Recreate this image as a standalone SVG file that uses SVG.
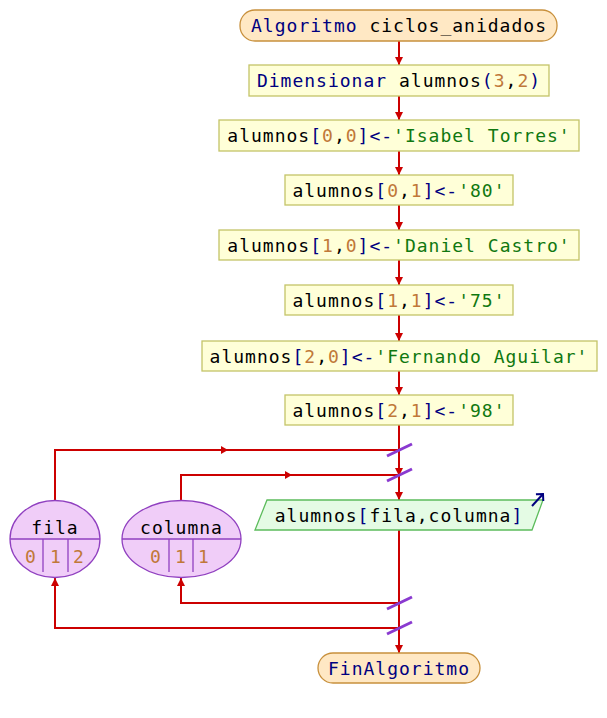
<svg xmlns="http://www.w3.org/2000/svg" width="607" height="718" viewBox="0 0 607 718">
<defs>
<marker id="ah" markerUnits="userSpaceOnUse" markerWidth="10" markerHeight="8" refX="8" refY="4" orient="auto">
<path d="M0,0 L8,4 L0,8 Z" fill="#cc0000"/>
</marker>
<marker id="ob" markerUnits="userSpaceOnUse" markerWidth="12" markerHeight="12" refX="6" refY="6" orient="auto">
<path d="M1,1 L6,6 L1,11" fill="none" stroke="#000080" stroke-width="2"/>
</marker>
<style>
text{font-family:"DejaVu Sans Mono","Liberation Mono",monospace;font-size:18px;letter-spacing:1px;fill:#000;text-anchor:middle}
.term{fill:#ffe8c4;stroke:#c8903c;stroke-width:1.3}
.proc{fill:#ffffd8;stroke:#c4c468;stroke-width:1.3}
.io{fill:#e4fbe4;stroke:#5cbc5c;stroke-width:1.3}
.var{fill:#f0cdf8;stroke:#9040c0;stroke-width:1.3}
.k{fill:#000080}
.n{fill:#c07838}
.s{fill:#107810}
.c{fill:none;stroke:#cc0000;stroke-width:2}
.sl{stroke:#8a3ad0;stroke-width:3}
.tri{fill:#cc0000}
</style>
</defs>
<g id="connectors">
<line class="c" x1="399" y1="41" x2="399" y2="65" marker-end="url(#ah)"/>
<line class="c" x1="399" y1="96" x2="399" y2="120" marker-end="url(#ah)"/>
<line class="c" x1="399" y1="151" x2="399" y2="175" marker-end="url(#ah)"/>
<line class="c" x1="399" y1="205" x2="399" y2="230" marker-end="url(#ah)"/>
<line class="c" x1="399" y1="260" x2="399" y2="285" marker-end="url(#ah)"/>
<line class="c" x1="399" y1="315" x2="399" y2="341" marker-end="url(#ah)"/>
<line class="c" x1="399" y1="371" x2="399" y2="395" marker-end="url(#ah)"/>
<line class="c" x1="399" y1="425" x2="399" y2="476" marker-end="url(#ah)"/>
<line class="c" x1="399" y1="476" x2="399" y2="500" marker-end="url(#ah)"/>
<line class="c" x1="399" y1="530" x2="399" y2="653" marker-end="url(#ah)"/>
<polyline class="c" points="55,500 55,450 399,450"/>
<path class="tri" d="M221,446 L228,450 L221,454 Z"/>
<polyline class="c" points="181,500 181,475 399,475"/>
<path class="tri" d="M285,471 L292,475 L285,479 Z"/>
<polyline class="c" points="399,603 181,603 181,578" marker-end="url(#ah)"/>
<polyline class="c" points="399,628 55,628 55,578" marker-end="url(#ah)"/>
<line class="sl" x1="387" y1="456" x2="412" y2="444"/>
<line class="sl" x1="387" y1="481" x2="412" y2="469"/>
<line class="sl" x1="387" y1="609" x2="412" y2="597"/>
<line class="sl" x1="387" y1="634" x2="412" y2="622"/>
</g>
<g id="start">
<rect class="term" x="240" y="10" width="317" height="31" rx="15"/>
<text x="399" y="32"><tspan class="k">Algoritmo</tspan> ciclos_anidados</text>
</g>
<g id="dim">
<rect class="proc" x="249" y="65" width="300" height="31"/>
<text x="399" y="87"><tspan class="k">Dimensionar</tspan> alumnos<tspan class="k">(</tspan><tspan class="n">3</tspan>,<tspan class="n">2</tspan><tspan class="k">)</tspan></text>
</g>
<g id="a00">
<rect class="proc" x="219" y="120" width="360" height="31"/>
<text x="399" y="142">alumnos<tspan class="k">[</tspan><tspan class="n">0</tspan>,<tspan class="n">0</tspan><tspan class="k">]&lt;-</tspan><tspan class="s">'Isabel Torres'</tspan></text>
</g>
<g id="a01">
<rect class="proc" x="285" y="175" width="228" height="30"/>
<text x="399" y="197">alumnos<tspan class="k">[</tspan><tspan class="n">0</tspan>,<tspan class="n">1</tspan><tspan class="k">]&lt;-</tspan><tspan class="s">'80'</tspan></text>
</g>
<g id="a10">
<rect class="proc" x="219" y="230" width="360" height="30"/>
<text x="399" y="252">alumnos<tspan class="k">[</tspan><tspan class="n">1</tspan>,<tspan class="n">0</tspan><tspan class="k">]&lt;-</tspan><tspan class="s">'Daniel Castro'</tspan></text>
</g>
<g id="a11">
<rect class="proc" x="285" y="285" width="228" height="30"/>
<text x="399" y="307">alumnos<tspan class="k">[</tspan><tspan class="n">1</tspan>,<tspan class="n">1</tspan><tspan class="k">]&lt;-</tspan><tspan class="s">'75'</tspan></text>
</g>
<g id="a20">
<rect class="proc" x="202" y="341" width="395" height="30"/>
<text x="399" y="363">alumnos<tspan class="k">[</tspan><tspan class="n">2</tspan>,<tspan class="n">0</tspan><tspan class="k">]&lt;-</tspan><tspan class="s">'Fernando Aguilar'</tspan></text>
</g>
<g id="a21">
<rect class="proc" x="285" y="395" width="228" height="30"/>
<text x="399" y="417">alumnos<tspan class="k">[</tspan><tspan class="n">2</tspan>,<tspan class="n">1</tspan><tspan class="k">]&lt;-</tspan><tspan class="s">'98'</tspan></text>
</g>
<g id="loopFila">
<ellipse class="var" cx="55" cy="539" rx="45" ry="38.5"/>
<line x1="10" y1="539" x2="100" y2="539" stroke="#9040c0" stroke-width="1.3"/>
<line x1="43" y1="539" x2="43" y2="572" stroke="#9040c0" stroke-width="1.3"/>
<line x1="68" y1="539" x2="68" y2="572" stroke="#9040c0" stroke-width="1.3"/>
<text x="55" y="534">fila</text>
<text class="n" x="31" y="563">0</text>
<text class="n" x="56" y="563">1</text>
<text class="n" x="79" y="563">2</text>
</g>
<g id="loopColumna">
<ellipse class="var" cx="181.5" cy="539" rx="59.5" ry="38.5"/>
<line x1="122" y1="539" x2="241" y2="539" stroke="#9040c0" stroke-width="1.3"/>
<line x1="169" y1="539" x2="169" y2="572" stroke="#9040c0" stroke-width="1.3"/>
<line x1="193" y1="539" x2="193" y2="572" stroke="#9040c0" stroke-width="1.3"/>
<text x="181.5" y="534">columna</text>
<text class="n" x="156" y="563">0</text>
<text class="n" x="181" y="563">1</text>
<text class="n" x="204" y="563">1</text>
</g>
<g id="output">
<polygon class="io" points="267,500 543,500 532,530 255,530"/>
<line x1="532" y1="506" x2="543" y2="494" stroke="#000080" stroke-width="2" marker-end="url(#ob)"/>
<text x="399" y="522">alumnos<tspan class="k">[</tspan>fila,columna<tspan class="k">]</tspan></text>
</g>
<g id="end">
<rect class="term" x="318" y="653" width="162" height="30" rx="15"/>
<text x="399" y="675" class="k">FinAlgoritmo</text>
</g>
</svg>
